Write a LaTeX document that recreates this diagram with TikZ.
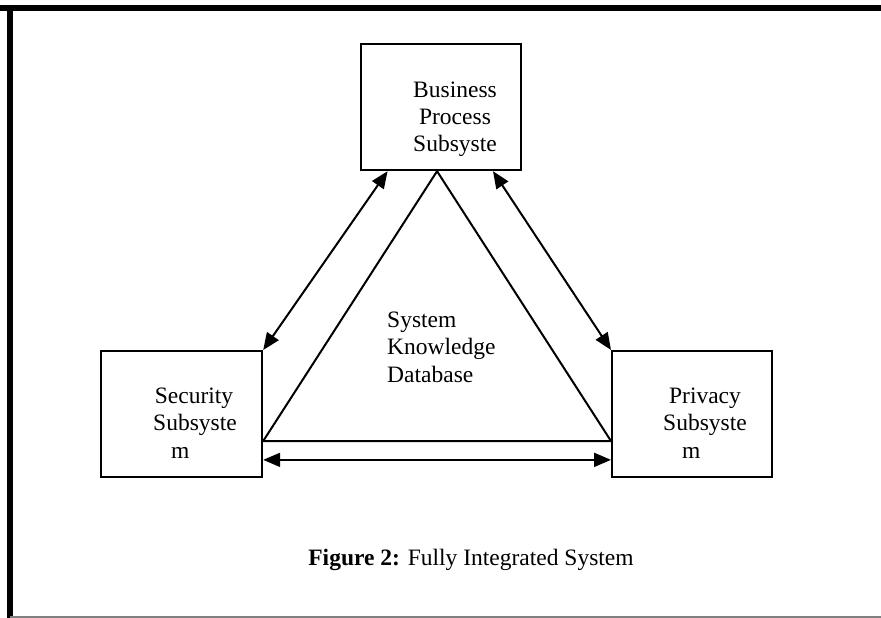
\documentclass[tikz,border=0pt]{standalone}
\usepackage{fontspec}
\setmainfont{Liberation Serif}
\usetikzlibrary{arrows.meta,calc}
\begin{document}
\begin{tikzpicture}[x=1pt,y=-1pt,
  box/.style={draw,line width=2.2pt,minimum width=#1,minimum height=126pt,inner sep=0pt,anchor=north west},
  lbl/.style={font=\fontsize{23.5}{27}\selectfont,inner sep=0pt},
  link/.style={line width=2pt},
  dbl/.style={line width=2pt,{Triangle[length=17pt,width=14pt]}-{Triangle[length=17pt,width=14pt]}},
  frame/.style={line width=6.5pt}]
\useasboundingbox (0,0) rectangle (881,618);
% page frame
\draw[frame] (0,8) -- (881,8);
\draw[frame] (10,5) -- (10,618);
\draw[gray,line width=1.5pt] (10,617) -- (881,617);
% boxes
\node[box=160pt] (bp) at (360,43) {};
\node[box=161pt] (sec) at (100,350) {};
\node[box=160pt] (pri) at (611,350) {};
% box texts
\node[lbl,anchor=base] (bp1) at (455,97) {Business};
\node[lbl,anchor=base] (bp2) at (455,124) {Process};
\node[lbl,anchor=base] (bp3) at (455,151) {Subsyste};
\node[lbl,anchor=base] (se1) at (194,403) {Security};
\node[lbl,anchor=base] (se2) at (195,430) {Subsyste};
\node[lbl,anchor=base west] (se3) at (171,458) {m};
\node[lbl,anchor=base] (pr1) at (705,403) {Privacy};
\node[lbl,anchor=base] (pr2) at (705,430) {Subsyste};
\node[lbl,anchor=base west] (pr3) at (682,458) {m};
% knowledge base text
\node[lbl,anchor=base west] (kb1) at (387,327) {System};
\node[lbl,anchor=base west] (kb2) at (387,354) {Knowledge};
\node[lbl,anchor=base west] (kb3) at (387,382) {Database};
% anchor coordinates
\coordinate (apex) at ($(bp.south west)!0.475!(bp.south east)$);
\coordinate (bpL) at ($(bp.south west)!0.17!(bp.south east)$);
\coordinate (bpR) at ($(bp.south west)!0.82!(bp.south east)$);
\coordinate (secT) at ($(sec.north east)!0.71!(sec.south east)$);
\coordinate (secA) at ($(sec.north east)!0.857!(sec.south east)$);
\coordinate (priT) at ($(pri.north west)!0.71!(pri.south west)$);
\coordinate (priA) at ($(pri.north west)!0.857!(pri.south west)$);
% triangle
\draw[link] (secT) -- (apex) -- (priT) -- cycle;
% double arrows
\draw[dbl] (bpL) -- (sec.north east);
\draw[dbl] (bpR) -- (pri.north west);
\draw[dbl] (secA) -- (priA);
% caption
\node[font=\fontsize{23.5}{27}\selectfont,anchor=base,inner sep=0pt] (cap) at (471,565) {\textbf{Figure 2:} Fully Integrated System};
\end{tikzpicture}
\end{document}
